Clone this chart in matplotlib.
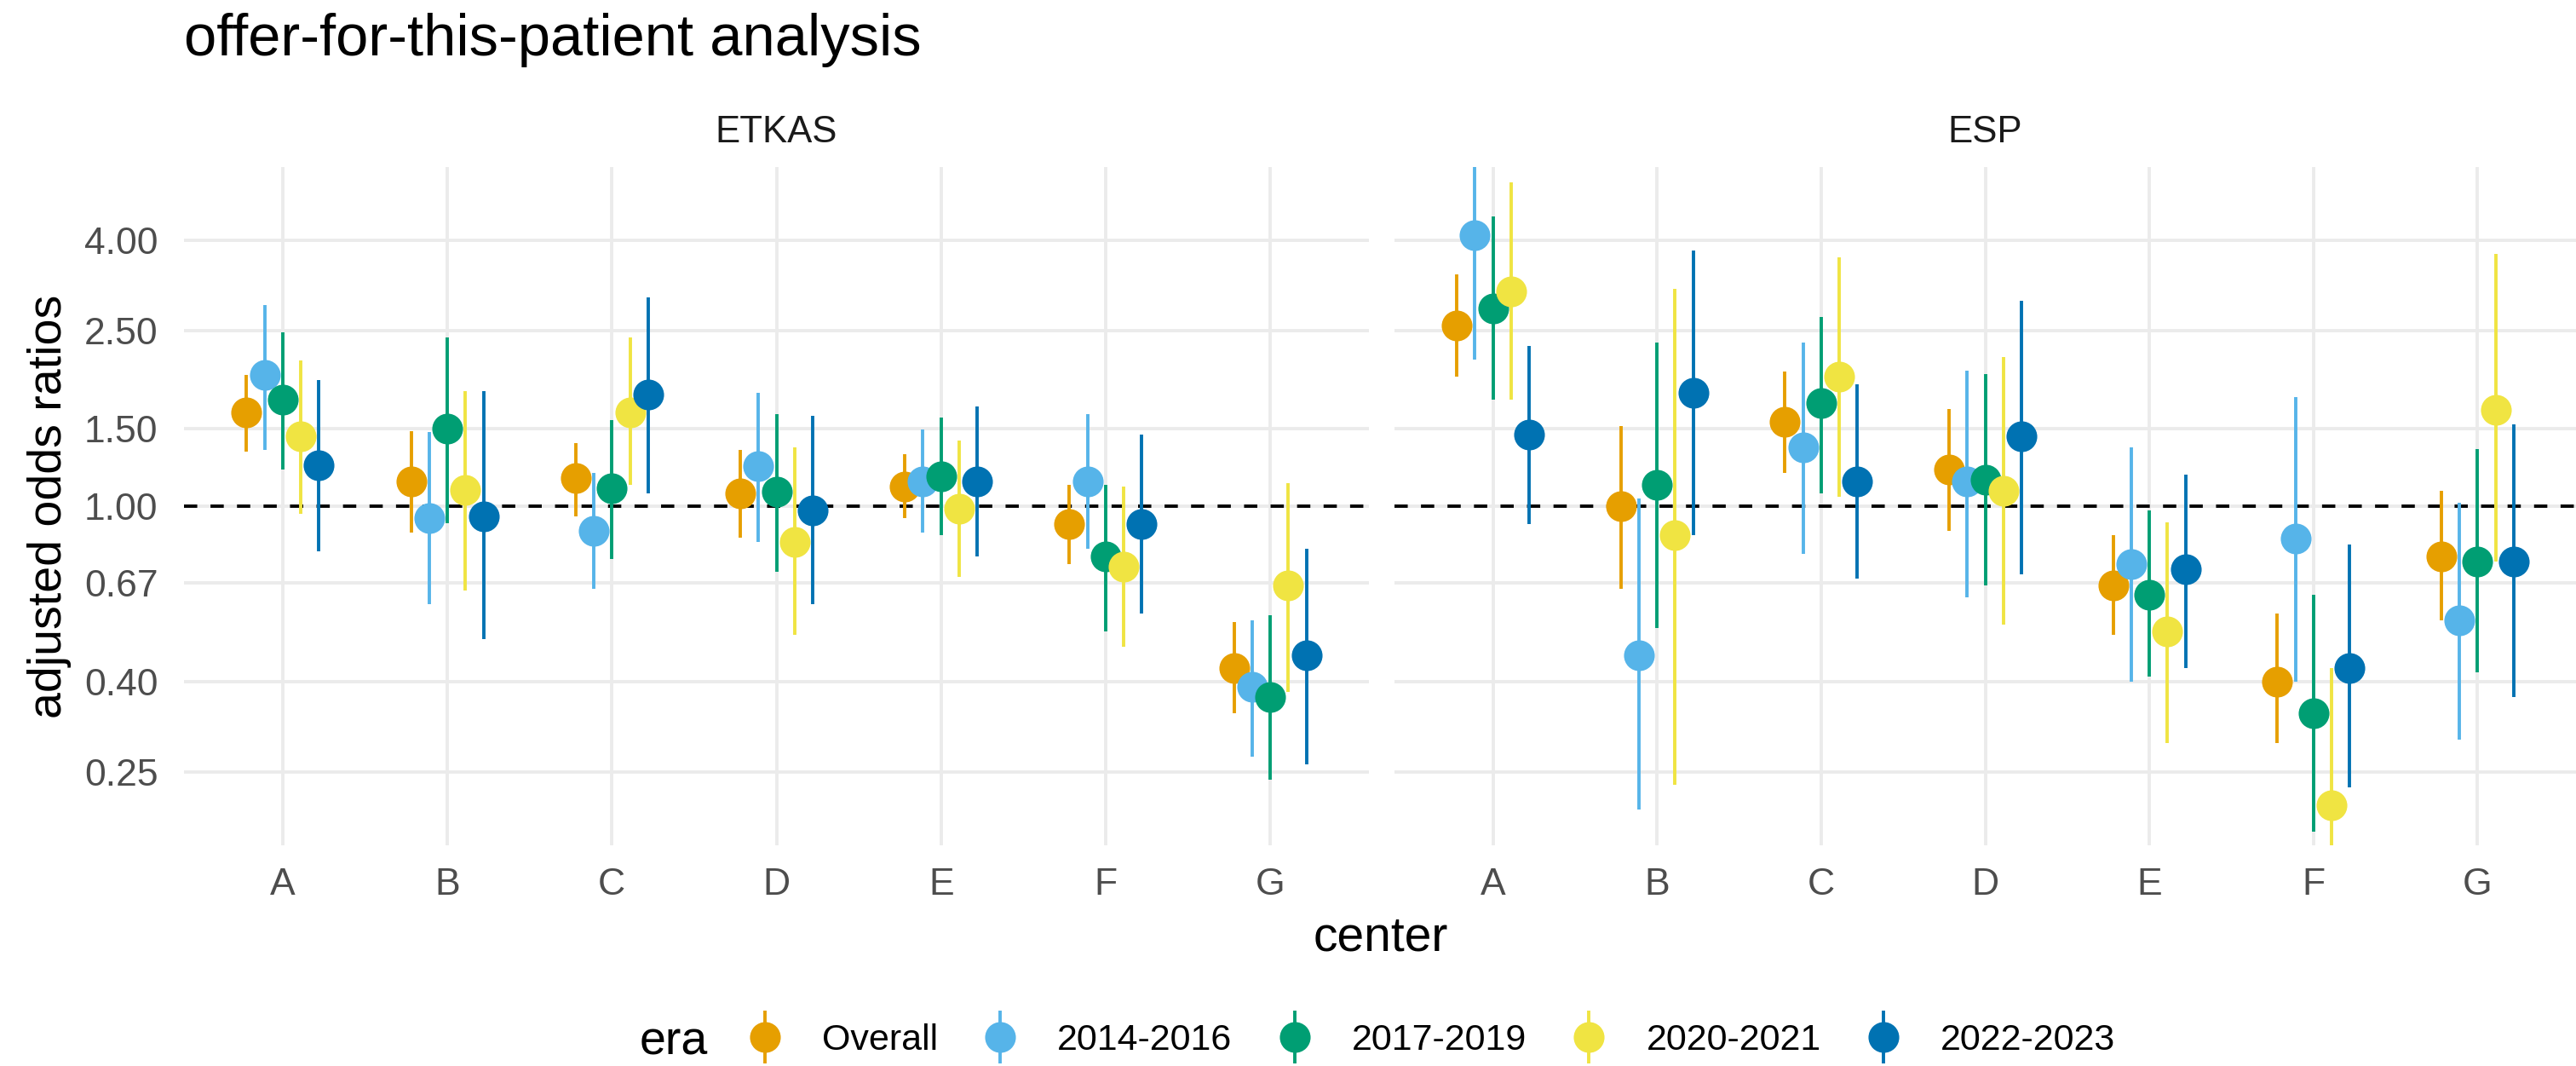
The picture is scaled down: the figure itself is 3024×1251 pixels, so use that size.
import numpy as np
import matplotlib
matplotlib.use("Agg")
import matplotlib.pyplot as plt
from matplotlib.ticker import FixedLocator, FixedFormatter, NullLocator
from matplotlib.container import ErrorbarContainer
from matplotlib.legend_handler import HandlerErrorbar

plt.rcParams["font.family"] = ["Liberation Sans", "DejaVu Sans"]

# data (adjusted odds ratios, 95% CI)
centers = ["A", "B", "C", "D", "E", "F", "G"]
eras = ["Overall", "2014-2016", "2017-2019", "2020-2021", "2022-2023"]
colors = ["#E69F00", "#56B4E9", "#009E73", "#F0E442", "#0072B2"]
y_ticks = [0.25, 0.40, 0.67, 1.00, 1.50, 2.50, 4.00]

etkas_est = {
    "Overall":   [1.63, 1.14, 1.16, 1.07, 1.11, 0.91, 0.43],
    "2014-2016": [1.98, 0.94, 0.88, 1.23, 1.14, 1.14, 0.39],
    "2017-2019": [1.74, 1.50, 1.10, 1.08, 1.17, 0.77, 0.37],
    "2020-2021": [1.44, 1.09, 1.63, 0.83, 0.985, 0.73, 0.66],
    "2022-2023": [1.24, 0.95, 1.79, 0.98, 1.14, 0.91, 0.46],
}
etkas_lo = {
    "Overall":   [1.33, 0.87, 0.95, 0.85, 0.94, 0.74, 0.34],
    "2014-2016": [1.34, 0.60, 0.65, 0.83, 0.87, 0.80, 0.27],
    "2017-2019": [1.21, 0.915, 0.76, 0.71, 0.86, 0.52, 0.24],
    "2020-2021": [0.96, 0.645, 1.12, 0.51, 0.69, 0.48, 0.38],
    "2022-2023": [0.79, 0.50, 1.07, 0.60, 0.77, 0.57, 0.26],
}
etkas_hi = {
    "Overall":   [1.98, 1.48, 1.39, 1.34, 1.31, 1.12, 0.545],
    "2014-2016": [2.86, 1.47, 1.19, 1.81, 1.49, 1.62, 0.55],
    "2017-2019": [2.48, 2.41, 1.57, 1.62, 1.59, 1.12, 0.566],
    "2020-2021": [2.14, 1.82, 2.41, 1.36, 1.41, 1.11, 1.13],
    "2022-2023": [1.93, 1.82, 2.98, 1.60, 1.68, 1.45, 0.80],
}

esp_est = {
    "Overall":   [2.57, 1.00, 1.55, 1.21, 0.66, 0.40, 0.77],
    "2014-2016": [4.12, 0.46, 1.36, 1.14, 0.74, 0.845, 0.55],
    "2017-2019": [2.81, 1.12, 1.71, 1.15, 0.63, 0.34, 0.75],
    "2020-2021": [3.07, 0.86, 1.97, 1.085, 0.52, 0.21, 1.65],
    "2022-2023": [1.45, 1.81, 1.14, 1.44, 0.72, 0.43, 0.75],
}
esp_lo = {
    "Overall":   [1.97, 0.65, 1.19, 0.88, 0.51, 0.29, 0.55],
    "2014-2016": [2.15, 0.205, 0.78, 0.62, 0.40, 0.40, 0.295],
    "2017-2019": [1.74, 0.53, 1.07, 0.66, 0.41, 0.183, 0.42],
    "2020-2021": [1.74, 0.234, 1.05, 0.54, 0.29, 0.15, 0.75],
    "2022-2023": [0.91, 0.86, 0.685, 0.70, 0.43, 0.23, 0.37],
}
esp_hi = {
    "Overall":   [3.36, 1.52, 2.02, 1.66, 0.86, 0.57, 1.085],
    "2014-2016": [6.50, 1.04, 2.35, 2.03, 1.36, 1.77, 1.02],
    "2017-2019": [4.54, 2.35, 2.69, 1.99, 0.98, 0.63, 1.35],
    "2020-2021": [5.42, 3.11, 3.67, 2.18, 0.92, 0.43, 3.73],
    "2022-2023": [2.31, 3.79, 1.89, 2.92, 1.18, 0.82, 1.53],
}

W, H = 3024, 1251
GRID = "#EBEBEB"
LW = 2.8
DODGE = 0.11


def fx(px):
    return px / W


def fy(py):
    return 1 - py / H


fig = plt.figure(figsize=(W / 100, H / 100), dpi=100)
ax1 = fig.add_axes([fx(216), fy(992), fx(1607 - 216), (992 - 196) / H])
ax2 = fig.add_axes([fx(1637), fy(992), fx(3024 - 1637), (992 - 196) / H], sharey=ax1)

x = np.arange(len(centers))
handles = []
for ax, est, lo, hi in [(ax1, etkas_est, etkas_lo, etkas_hi), (ax2, esp_est, esp_lo, esp_hi)]:
    ax.axhline(1.0, color="black", lw=LW, ls=(0, (4, 4)), zorder=1.5)
    for i, era in enumerate(eras):
        e = np.array(est[era])
        l = np.array(lo[era])
        h = np.array(hi[era])
        cont = ax.errorbar(x + (i - 2) * DODGE, e, yerr=[e - l, h - e], fmt="o",
                           color=colors[i], ms=26, mec="none", elinewidth=LW,
                           capsize=0)
        cont[0].set_zorder(3)
        for c in cont[2]:
            c.set_zorder(2)
        if ax is ax1:
            handles.append(cont)

    ax.set_yscale("log")
    ax.set_ylim(0.2 * np.exp(-0.16094), 5 * np.exp(0.16094))
    ax.set_xlim(-0.6, 6.6)
    ax.yaxis.set_major_locator(FixedLocator(y_ticks))
    ax.yaxis.set_major_formatter(FixedFormatter([f"{t:.2f}" for t in y_ticks]))
    ax.yaxis.set_minor_locator(NullLocator())
    ax.set_xticks(x)
    ax.set_xticklabels(centers)
    ax.tick_params(length=0, labelsize=32, labelcolor="#4D4D4D")
    ax.tick_params(axis="x", pad=19)
    ax.tick_params(axis="y", pad=22)
    ax.grid(True, color=GRID, lw=LW)
    ax.set_axisbelow(True)
    for s in ax.spines.values():
        s.set_visible(False)

ax2.tick_params(labelleft=False)

# text
fig.text(fx(216), fy(65), "offer-for-this-patient analysis", fontsize=49.5,
         ha="left", va="baseline")
fig.text(fx(911.5), fy(167), "ETKAS", fontsize=31.5, color="#1A1A1A",
         ha="center", va="baseline")
fig.text(fx(2330.5), fy(167), "ESP", fontsize=31.5, color="#1A1A1A",
         ha="center", va="baseline")
fig.text(fx(1621), fy(1116), "center", fontsize=41, ha="center", va="baseline")
fig.text(fx(58), fy(594), "adjusted odds ratios", fontsize=40, rotation=90,
         ha="center", va="center")

# legend
fig.text(fx(751), fy(1237), "era", fontsize=40, ha="left", va="baseline")
fig.legend(handles, eras, loc="center left", bbox_to_anchor=(fx(876), fy(1221)),
           ncol=5, frameon=False, fontsize=31, handlelength=1.0,
           handletextpad=1.06, columnspacing=1.2, borderpad=0, borderaxespad=0,
           handler_map={ErrorbarContainer: HandlerErrorbar(xerr_size=0.5, yerr_size=0.72)})

fig.savefig("out.png", dpi=100)
